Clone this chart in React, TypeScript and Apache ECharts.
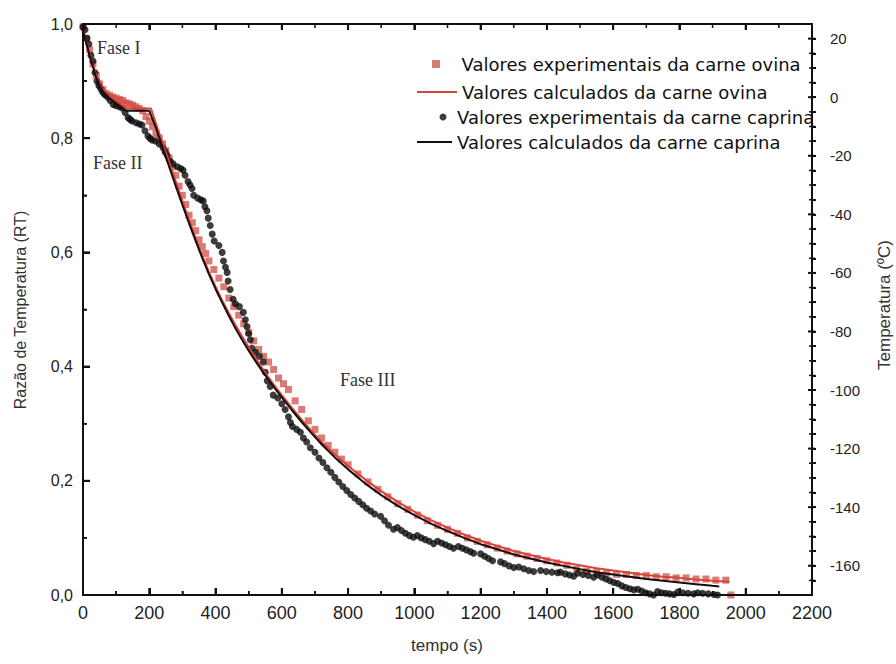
import { useEffect, useRef } from "react";
import * as echarts from "echarts";

const S_OV_EXP = "Valores experimentais da carne ovina";
const S_OV_CALC = "Valores calculados da carne ovina";
const S_CA_EXP = "Valores experimentais da carne caprina";
const S_CA_CALC = "Valores calculados da carne caprina";

// tempo (s), razão de temperatura (RT)
const ovinaExp: number[][] = [
  [0, 0.995], [10, 0.975], [20, 0.955], [30, 0.93], [40, 0.91], [50, 0.895], [60, 0.885], [70, 0.878],
  [80, 0.875], [90, 0.872], [100, 0.87], [110, 0.868], [120, 0.866], [130, 0.862], [140, 0.86], [150, 0.858],
  [160, 0.855], [170, 0.852], [180, 0.848], [190, 0.838], [200, 0.83], [210, 0.82], [220, 0.808], [230, 0.8],
  [240, 0.79], [250, 0.778], [260, 0.765], [270, 0.75], [280, 0.735], [290, 0.716], [300, 0.7], [310, 0.684],
  [320, 0.665], [330, 0.652], [340, 0.638], [350, 0.622], [360, 0.61], [370, 0.598], [380, 0.585], [395, 0.57],
  [410, 0.555], [425, 0.54], [440, 0.52], [455, 0.505], [470, 0.49], [485, 0.475], [500, 0.46], [515, 0.445],
  [530, 0.43], [545, 0.418], [560, 0.408], [575, 0.395], [590, 0.38], [605, 0.37], [620, 0.36], [640, 0.34],
  [660, 0.325], [680, 0.305], [700, 0.29], [720, 0.275], [740, 0.262], [760, 0.25], [780, 0.238], [800, 0.228],
  [830, 0.212], [860, 0.198], [890, 0.185], [920, 0.172], [950, 0.16], [980, 0.15], [1010, 0.14], [1040, 0.13],
  [1070, 0.122], [1100, 0.115], [1130, 0.108], [1160, 0.1], [1190, 0.094], [1220, 0.088], [1250, 0.082],
  [1280, 0.077], [1310, 0.072], [1340, 0.068], [1370, 0.064], [1400, 0.06], [1430, 0.056], [1460, 0.052],
  [1490, 0.045], [1520, 0.042], [1550, 0.04], [1580, 0.038], [1610, 0.036], [1640, 0.036], [1670, 0.034],
  [1700, 0.034], [1730, 0.032], [1760, 0.032], [1790, 0.03], [1820, 0.03], [1850, 0.028], [1880, 0.028],
  [1910, 0.026], [1940, 0.026], [1955, 0.0],
];

const ovinaCalc: number[][] = [
  [0, 0.99], [10, 0.968], [20, 0.948], [30, 0.928], [40, 0.91], [50, 0.895], [60, 0.886], [80, 0.874],
  [100, 0.865], [120, 0.857], [135, 0.852], [205, 0.852], [220, 0.826], [240, 0.792], [260, 0.758],
  [280, 0.724], [300, 0.69], [320, 0.657], [340, 0.625], [360, 0.594], [380, 0.566], [400, 0.54],
  [420, 0.516], [440, 0.494], [460, 0.473], [480, 0.453], [500, 0.434], [520, 0.416], [540, 0.398],
  [560, 0.381], [580, 0.365], [600, 0.35], [630, 0.328], [660, 0.307], [690, 0.287], [720, 0.268],
  [760, 0.246], [800, 0.226], [850, 0.203], [900, 0.182], [950, 0.163], [1000, 0.146], [1050, 0.131],
  [1100, 0.118], [1150, 0.106], [1200, 0.095], [1250, 0.086], [1300, 0.077], [1350, 0.07], [1400, 0.063],
  [1450, 0.057], [1500, 0.052], [1550, 0.047], [1600, 0.043], [1650, 0.039], [1700, 0.035], [1750, 0.032],
  [1800, 0.03], [1850, 0.027], [1900, 0.025], [1950, 0.023],
];

const caprinaExp: number[][] = [
  [0, 0.995], [6, 0.99], [12, 0.975], [18, 0.965], [24, 0.945], [30, 0.935], [36, 0.915], [42, 0.9],
  [48, 0.892], [54, 0.886], [60, 0.88], [66, 0.876], [74, 0.872], [82, 0.866], [91, 0.859], [100, 0.857],
  [110, 0.855], [118, 0.853], [127, 0.845], [136, 0.836], [142, 0.833], [148, 0.83], [160, 0.827],
  [170, 0.825], [178, 0.823], [187, 0.813], [196, 0.804], [202, 0.8], [208, 0.797], [218, 0.795],
  [230, 0.79], [242, 0.783], [248, 0.776], [254, 0.77], [263, 0.76], [272, 0.755], [285, 0.75],
  [295, 0.747], [302, 0.744], [308, 0.735], [317, 0.724], [323, 0.718], [329, 0.712], [334, 0.7],
  [346, 0.695], [356, 0.692], [363, 0.69], [368, 0.68], [374, 0.673], [378, 0.66], [384, 0.647],
  [390, 0.632], [396, 0.62], [410, 0.612], [420, 0.6], [424, 0.585], [430, 0.574], [435, 0.565],
  [438, 0.55], [444, 0.535], [453, 0.518], [460, 0.51], [472, 0.505], [484, 0.495], [490, 0.482],
  [495, 0.47], [500, 0.458], [505, 0.447], [510, 0.432], [520, 0.425], [532, 0.418], [544, 0.408],
  [550, 0.39], [556, 0.375], [565, 0.365], [574, 0.35], [588, 0.345], [600, 0.335], [610, 0.325],
  [620, 0.312], [626, 0.302], [632, 0.295], [645, 0.29], [656, 0.285], [665, 0.275], [675, 0.268],
  [686, 0.258], [700, 0.25], [712, 0.24], [724, 0.232], [736, 0.223], [748, 0.215], [760, 0.206],
  [772, 0.198], [784, 0.19], [796, 0.183], [808, 0.176], [820, 0.17], [832, 0.164], [844, 0.158],
  [856, 0.152], [868, 0.147], [880, 0.142], [898, 0.138], [910, 0.13], [922, 0.122], [937, 0.115],
  [949, 0.118], [961, 0.113], [973, 0.108], [985, 0.104], [997, 0.101], [1009, 0.104], [1021, 0.1],
  [1033, 0.097], [1045, 0.094], [1058, 0.09], [1070, 0.094], [1082, 0.091], [1094, 0.088], [1106, 0.085],
  [1118, 0.082], [1133, 0.085], [1145, 0.082], [1157, 0.079], [1169, 0.076], [1179, 0.073], [1200, 0.072],
  [1212, 0.068], [1224, 0.064], [1236, 0.06], [1260, 0.058], [1272, 0.055], [1286, 0.051], [1300, 0.048],
  [1315, 0.049], [1330, 0.046], [1345, 0.043], [1360, 0.041], [1381, 0.043], [1398, 0.041], [1415, 0.04],
  [1432, 0.039], [1441, 0.04], [1455, 0.037], [1468, 0.035], [1481, 0.033], [1493, 0.038], [1509, 0.036],
  [1525, 0.034], [1541, 0.031], [1553, 0.035], [1566, 0.031], [1578, 0.028], [1590, 0.025], [1602, 0.022],
  [1614, 0.02], [1626, 0.016], [1638, 0.013], [1650, 0.011], [1662, 0.009], [1674, 0.01], [1686, 0.007],
  [1698, 0.004], [1710, 0.002], [1722, 0.0], [1734, 0.006], [1746, 0.004], [1758, 0.003], [1770, 0.002],
  [1783, 0.001], [1795, 0.005], [1810, 0.004], [1826, 0.003], [1843, 0.002], [1855, 0.004], [1870, 0.003],
  [1887, 0.002], [1904, 0.001], [1915, 0.0],
];

const caprinaCalc: number[][] = [
  [0, 0.99], [10, 0.966], [20, 0.945], [30, 0.925], [40, 0.906], [50, 0.892], [60, 0.882], [80, 0.87],
  [100, 0.861], [120, 0.852], [130, 0.848], [200, 0.848], [220, 0.818], [240, 0.784], [260, 0.75],
  [280, 0.716], [300, 0.683], [320, 0.651], [340, 0.62], [360, 0.59], [380, 0.562], [400, 0.536],
  [420, 0.512], [440, 0.489], [460, 0.467], [480, 0.447], [500, 0.428], [520, 0.41], [540, 0.393],
  [560, 0.377], [580, 0.361], [600, 0.346], [630, 0.324], [660, 0.303], [690, 0.283], [720, 0.264],
  [760, 0.241], [800, 0.22], [850, 0.196], [900, 0.175], [950, 0.156], [1000, 0.14], [1050, 0.125],
  [1100, 0.112], [1150, 0.1], [1200, 0.089], [1250, 0.08], [1300, 0.071], [1350, 0.064], [1400, 0.057],
  [1450, 0.051], [1500, 0.045], [1550, 0.04], [1600, 0.036], [1650, 0.032], [1700, 0.028], [1750, 0.025],
  [1800, 0.022], [1850, 0.019], [1900, 0.016], [1920, 0.015],
];

// tick positions (axis values)
const timeMajorTicks = [0, 200, 400, 600, 800, 1000, 1200, 1400, 1600, 1800, 2000, 2200];
const timeMinorTicks = [100, 300, 500, 700, 900, 1100, 1300, 1500, 1700, 1900, 2100];
const rtMajorTicks = [0, 0.2, 0.4, 0.6, 0.8, 1.0];
const rtMinorTicks = [0.1, 0.3, 0.5, 0.7, 0.9];
const tempLabelValues = [-160, -140, -120, -100, -80, -60, -40, -20, 0, 20];
const tempTickValues = [
  -165, -160, -155, -150, -145, -140, -135, -130, -125, -120, -115, -110, -105, -100, -95, -90,
  -85, -80, -75, -70, -65, -60, -55, -50, -45, -40, -35, -30, -25, -20, -15, -10, -5, 0, 5, 10, 15, 20,
];

const phaseLabels = ["Fase I", "Fase II", "Fase III"];

export default function App() {
  const ref = useRef<HTMLDivElement>(null);

  useEffect(() => {
    const chart = echarts.init(ref.current!, null, { renderer: "svg" });
    const ink = "#111111";
    const sans = "'Liberation Sans', Arial, sans-serif";
    const serif = "'Liberation Serif', 'Times New Roman', serif";
    const legendText = { fontFamily: "'DejaVu Sans', sans-serif", fontSize: 18, color: "#111", lineHeight: 20 };
    const mk = () => ({ show: true, onZero: false, lineStyle: { color: ink, width: 2 } });
    const tk = (inside: boolean, length: number) => ({ show: true, inside, length, lineStyle: { color: ink, width: 2 } });

    const seg = (x1: number, y1: number, x2: number, y2: number, w: number) => ({
      type: "line",
      shape: { x1, y1, x2, y2 },
      style: { stroke: ink, lineWidth: w },
    });

    // frame + ticks of the time / RT axes, positioned through the cartesian scales
    const frameRender = (_params: any, api: any) => {
      const p0 = api.coord([0, 0]);
      const p1 = api.coord([2200, 1]);
      const left = p0[0], bottom = p0[1], right = p1[0], top = p1[1];
      const children: any[] = [
        {
          type: "rect",
          shape: { x: left, y: top, width: right - left, height: bottom - top },
          style: { fill: "none", stroke: ink, lineWidth: 2 },
        },
      ];
      timeMajorTicks.forEach((t) => {
        const x = api.coord([t, 0])[0];
        children.push(seg(x, bottom, x, bottom - 7, 2), seg(x, top, x, top + 6, 2));
      });
      timeMinorTicks.forEach((t) => {
        const x = api.coord([t, 0])[0];
        children.push(seg(x, bottom, x, bottom - 4, 1.5), seg(x, top, x, top + 4, 1.5));
      });
      rtMajorTicks.forEach((v) => {
        const y = api.coord([0, v])[1];
        children.push(seg(left, y, left + 7, y, 2));
      });
      rtMinorTicks.forEach((v) => {
        const y = api.coord([0, v])[1];
        children.push(seg(left, y, left + 4, y, 1.5));
      });
      return { type: "group", children };
    };

    // ticks of the temperature axis, positioned through the right axis scale
    const tempTickRender = (_params: any, api: any) => {
      const right = api.coord([2200, 0])[0];
      const children: any[] = tempTickValues.map((T) => {
        const y = api.coord([2200, T])[1];
        const major = tempLabelValues.indexOf(T) >= 0;
        return seg(right - (major ? 4 : 3), y, right + 3, y, major ? 2 : 1.5);
      });
      return { type: "group", children };
    };

    chart.setOption({
      animation: false,
      backgroundColor: "#fff",
      grid: { left: 83, right: 84, top: 24, bottom: 69, containLabel: false, outerBoundsMode: "none" },
      xAxis: [
        {
          type: "value", position: "bottom", min: 0, max: 2200, interval: 200,
          axisLine: mk(),
          axisTick: tk(true, 7),
          minorTick: { show: true, splitNumber: 2, length: 4, lineStyle: { color: ink, width: 1.5 } },
          axisLabel: {
            color: "#222",
            fontSize: 18,
            fontFamily: "'Liberation Sans Narrow', 'Arial Narrow', 'Liberation Sans', sans-serif",
            margin: 9,
            formatter: (v: number) => String(v),
          },
          splitLine: { show: false },
        },
        {
          type: "value", position: "top", min: 0, max: 2200, interval: 200,
          axisLine: mk(),
          axisTick: tk(true, 6),
          axisLabel: { show: false },
          splitLine: { show: false },
        },
      ],
      yAxis: [
        {
          type: "value", position: "left", min: 0, max: 1, interval: 0.2,
          axisLine: mk(),
          axisTick: tk(true, 7),
          minorTick: { show: true, splitNumber: 2, length: 4, lineStyle: { color: ink, width: 1.5 } },
          axisLabel: {
            color: "#222",
            fontSize: 16,
            fontFamily: sans,
            margin: 10,
            formatter: (v: number) => v.toFixed(1).replace(".", ","),
          },
          splitLine: { show: false },
        },
        {
          type: "value", position: "right", min: -170, max: 25,
          axisLine: mk(),
          axisTick: { ...tk(false, 4), customValues: tempTickValues },
          axisLabel: {
            color: "#222",
            fontSize: 15,
            fontFamily: sans,
            margin: 18,
            customValues: tempLabelValues,
          },
          splitLine: { show: false },
        },
      ],
      legend: [
        {
          data: [{ name: S_OV_EXP, icon: "path://M0 0H10V10H0Z" }],
          left: 432, top: 54, padding: 0, itemWidth: 41, itemHeight: 8,
          selectedMode: false, textStyle: legendText,
        },
        {
          data: [{ name: S_OV_CALC, icon: "path://M0 0H40V2H0Z" }],
          left: 417, top: 82, padding: 0, itemWidth: 40, itemHeight: 2,
          selectedMode: false, textStyle: legendText,
        },
        {
          data: [{ name: S_CA_EXP, icon: "circle" }],
          left: 439.5, top: 107, padding: 0, itemWidth: 18, itemHeight: 7,
          selectedMode: false, textStyle: legendText,
        },
        {
          data: [{ name: S_CA_CALC, icon: "path://M0 0H35V2H0Z" }],
          left: 417, top: 132, padding: 0, itemWidth: 35, itemHeight: 2,
          selectedMode: false, textStyle: legendText,
        },
      ],
      graphic: [
        {
          type: "text", x: 97, y: 48,
          style: { text: phaseLabels[0], fontFamily: serif, fontSize: 18, fill: "#333", verticalAlign: "middle" },
        },
        {
          type: "text", x: 93, y: 163,
          style: { text: phaseLabels[1], fontFamily: serif, fontSize: 18, fill: "#333", verticalAlign: "middle" },
        },
        {
          type: "text", x: 340, y: 380,
          style: { text: phaseLabels[2], fontFamily: serif, fontSize: 18, fill: "#333", verticalAlign: "middle" },
        },
        {
          type: "text", x: 20, y: 310, rotation: Math.PI / 2,
          style: { text: "Razão de Temperatura (RT)", fontFamily: sans, fontSize: 16, fill: "#333", align: "center", verticalAlign: "middle" },
        },
        {
          type: "text", x: 447, y: 645,
          style: { text: "tempo (s)", fontFamily: sans, fontSize: 17, fill: "#333", align: "center", verticalAlign: "middle" },
        },
        {
          type: "text", x: 884, y: 305, rotation: Math.PI / 2,
          style: { text: "Temperatura (ºC)", fontFamily: sans, fontSize: 17, fill: "#333", align: "center", verticalAlign: "middle" },
        },
      ],
      series: [
        {
          name: S_OV_EXP,
          type: "scatter",
          xAxisIndex: 0,
          yAxisIndex: 0,
          symbol: "rect",
          symbolSize: 7,
          itemStyle: { color: "rgba(205,72,62,0.9)" },
          data: ovinaExp,
          z: 2,
        },
        {
          name: S_CA_EXP,
          type: "scatter",
          xAxisIndex: 0,
          yAxisIndex: 0,
          symbol: "circle",
          symbolSize: 7,
          itemStyle: { color: "#0d0d0d" },
          data: caprinaExp,
          z: 3,
        },
        {
          name: S_OV_CALC,
          type: "line",
          xAxisIndex: 0,
          yAxisIndex: 0,
          showSymbol: false,
          symbol: "none",
          lineStyle: { color: "#d8423a", width: 2 },
          itemStyle: { color: "#d8423a" },
          data: ovinaCalc,
          z: 4,
        },
        {
          name: S_CA_CALC,
          type: "line",
          xAxisIndex: 0,
          yAxisIndex: 0,
          showSymbol: false,
          symbol: "none",
          lineStyle: { color: "#1a0c0c", width: 2 },
          itemStyle: { color: "#1a0c0c" },
          data: caprinaCalc,
          z: 5,
        },
        {
          name: "frame",
          type: "custom",
          xAxisIndex: 0,
          yAxisIndex: 0,
          silent: true,
          clip: false,
          renderItem: frameRender,
          data: [[0, 0]],
          z: 10,
        },
        {
          name: "tempTicks",
          type: "custom",
          xAxisIndex: 0,
          yAxisIndex: 1,
          silent: true,
          clip: false,
          renderItem: tempTickRender,
          data: [[2200, 0]],
          z: 10,
        },
      ],
    });

    return () => chart.dispose();
  }, []);

  return (
    <div
      ref={ref}
      style={{ position: "fixed", left: 0, top: 0, width: 896, height: 664, background: "#fff" }}
    />
  );
}
